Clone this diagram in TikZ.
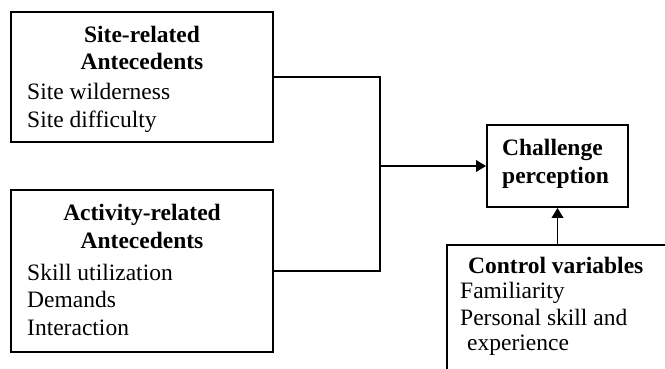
\documentclass[tikz,border=0pt]{standalone}
\usepackage{fontspec}
\setmainfont{Liberation Serif}
\usetikzlibrary{arrows.meta}
\begin{document}
\begin{tikzpicture}[x=1pt,y=-1pt,
  box/.style={draw,line width=1.8pt,inner sep=0pt,rectangle},
  lbl/.style={inner sep=0pt,font=\fontsize{23.5}{27}\selectfont},
  hd/.style={lbl,font=\fontsize{23.5}{27}\selectfont\bfseries},
  conn/.style={line width=1.8pt},
  arr/.style={line width=1.8pt,-{Triangle[length=10pt,width=11.5pt]}}]
\useasboundingbox (0,0) rectangle (665,369);
\clip (0,0) rectangle (665,369);
\fill[white] (0,0) rectangle (665,369);
% boxes
\node[box,minimum width=262pt,minimum height=130pt] (site) at (142,77) {};
\node[box,minimum width=262pt,minimum height=162pt] (act) at (142,271) {};
\node[box,minimum width=141pt,minimum height=82pt] (chal) at (557.5,166) {};
\node[box,minimum width=260pt,minimum height=170pt,anchor=north west] (ctrl) at (446,244) {};
% texts
\node[hd,anchor=base] (s1) at (142,43) {Site-related};
\node[hd,anchor=base] (s2) at (142,70) {Antecedents};
\node[lbl,anchor=base west] (s3) at (27,100) {Site wilderness};
\node[lbl,anchor=base west] (s4) at (27,128) {Site difficulty};
\node[hd,anchor=base] (a1) at (142,220) {Activity-related};
\node[hd,anchor=base] (a2) at (142,248) {Antecedents};
\node[lbl,anchor=base west] (a3) at (27,280) {Skill utilization};
\node[lbl,anchor=base west] (a4) at (27,307) {Demands};
\node[lbl,anchor=base west] (a5) at (27,335) {Interaction};
\node[hd,anchor=base west] (c1) at (502,155) {Challenge};
\node[hd,anchor=base west] (c2) at (502,183) {perception};
\node[hd,anchor=base west] (k1) at (468,273) {Control variables};
\node[lbl,anchor=base west] (k2) at (460,298) {Familiarity};
\node[lbl,anchor=base west] (k3) at (460,325) {Personal skill and};
\node[lbl,anchor=base west] (k4) at (467,350) {experience};
% connectors
\coordinate (j) at (380,166);
\draw[conn] (site.east) -| (j);
\draw[conn] (act.east) -| (j);
\draw[arr] (j) -- (chal.west);
\draw[arr] (ctrl.north -| chal.south) -- (chal.south);
\end{tikzpicture}
\end{document}
